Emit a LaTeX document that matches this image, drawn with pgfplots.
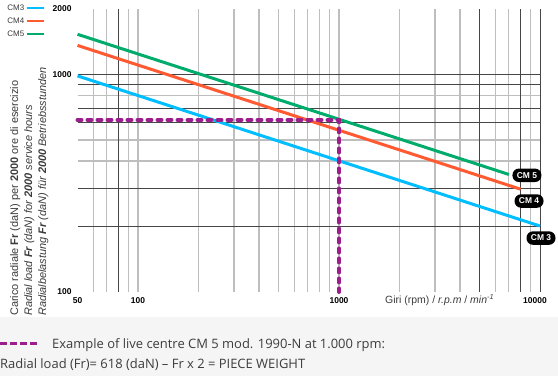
\documentclass[border=0pt]{standalone}
\usepackage{pgfplots}
\pgfplotsset{compat=1.18}
\usepackage{fontspec}
\setmainfont{Liberation Sans}
\newfontfamily\opensans{Open Sans}
\definecolor{cmthree}{RGB}{0,190,255}
\definecolor{cmfour}{RGB}{255,90,50}
\definecolor{cmfive}{RGB}{0,172,108}
\definecolor{expurple}{RGB}{155,30,140}
\definecolor{gridgray}{RGB}{190,190,190}
\definecolor{griddark}{RGB}{70,70,70}
\definecolor{bandgray}{RGB}{245,245,245}
\definecolor{txtgray}{RGB}{60,60,60}
\begin{document}
\begin{tikzpicture}
\useasboundingbox (0bp,0bp) rectangle (558bp,-376bp);
\fill[white] (0bp,0bp) rectangle (558bp,-317bp);
\fill[bandgray] (0bp,-317bp) rectangle (558bp,-376bp);
\begin{axis}[
  at={(77.5bp,-292bp)}, anchor=south west,
  scale only axis, width=462.5bp, height=283bp,
  xmode=log, ymode=log,
  xmin=50, xmax=10000, ymin=100, ymax=2000,
  clip=false,
  axis line style={draw=none},
  tick style={draw=none},
  xtick={50,100,1000,10000},
  xticklabels={50,100,1000,{\hspace*{-10bp}10000}},
  ytick={100,1000,2000},
  yticklabels={100,1000,2000},
  xticklabel style={font=\bfseries\fontsize{8.5}{10}\selectfont, yshift=-2bp},
  yticklabel style={font=\bfseries\fontsize{8.5}{10}\selectfont, xshift=-2.5bp},
  xmajorgrids=false, ymajorgrids=false,
  minor xtick={60,70,90,100,200,300,400,500,600,700,800,900,1000,2000,3000,4000,6000,7000,9000},
  minor ytick={400,500,800},
  xminorgrids=true, yminorgrids=true,
  minor grid style={gridgray, line width=1.2bp},
  extra x ticks={80,5000,8000,10000},
  extra x tick labels={},
  extra x tick style={grid=major, major grid style={griddark, line width=0.8bp}},
  extra y ticks={200,300,600,700,900,1000},
  extra y tick labels={},
  extra y tick style={grid=major, major grid style={griddark, line width=0.8bp}},
  legend plot pos=right,
  legend image code/.code={\draw[#1, line width=2.5bp] (0bp,0bp) -- (17bp,0bp);},
  legend style={at={(-0.0703,1.0216)}, anchor=north east, draw=none, fill=none,
    font=\fontsize{8}{9}\selectfont, text=txtgray, row sep=3.5bp, inner sep=0pt,
    nodes={text height=6bp, text depth=1.5bp, inner sep=1bp}},
]
\addplot[cmthree, line width=3bp] coordinates {(50,985) (10000,201)};
\addlegendentry{CM3}
\addplot[cmfour, line width=3bp] coordinates {(50,1360) (8000,297)};
\addlegendentry{CM4}
\addplot[cmfive, line width=3bp] coordinates {(50,1530) (7000,347)};
\addlegendentry{CM5}
\addplot[expurple, line width=4bp, line cap=round, dash pattern=on 4bp off 6bp, forget plot]
  coordinates {(50,618) (1000,618) (1000,100)};
\node[fill=black, text=white, rounded corners=6.5bp, minimum width=29bp,
  minimum height=13.5bp, inner sep=0pt, font=\bfseries\fontsize{8.5}{9}\selectfont]
  at (axis cs:8610,344) {CM 5};
\node[fill=black, text=white, rounded corners=6.5bp, minimum width=29bp,
  minimum height=13.5bp, inner sep=0pt, font=\bfseries\fontsize{8.5}{9}\selectfont]
  at (axis cs:8818,262) {CM 4};
\node[fill=black, text=white, rounded corners=6.5bp, minimum width=29bp,
  minimum height=13.5bp, inner sep=0pt, font=\bfseries\fontsize{8.5}{9}\selectfont]
  at (axis cs:10115,177) {CM 3};
\end{axis}
\node[rotate=90, anchor=north west, align=left, text=txtgray,
  font=\fontsize{11}{14}\selectfont, inner sep=0pt] at (10bp,-316bp)
  {Carico radiale \textbf{Fr} (daN) per \textbf{2000} ore di esercizio\\
   \textit{Radial load \textbf{Fr} (daN) for \textbf{2000} service hours}\\
   \textit{Radialbelastung \textbf{Fr} (daN) für \textbf{2000} Betriebsstunden}};
\node[anchor=west, inner sep=0pt, text=txtgray, font=\fontsize{10.5}{12}\selectfont] at (385bp,-300bp)
  {Giri (rpm) / \textit{r.p.m} / \textit{min}\textsuperscript{\textit{-1}}};
\draw[expurple, line width=3bp, dash pattern=on 7bp off 3bp] (0bp,-343bp) -- (37bp,-343bp);
\node[anchor=west, inner sep=0pt, text=txtgray, font=\opensans\fontsize{13}{15}\selectfont] at (52bp,-345bp)
  {Example of live centre CM 5 mod. 1990-N at 1.000 rpm:};
\node[anchor=west, inner sep=0pt, text=txtgray, font=\opensans\fontsize{13}{15}\selectfont] at (0bp,-365bp)
  {Radial load (Fr)= 618 (daN) – Fr x 2 = PIECE WEIGHT};
\end{tikzpicture}
\end{document}
